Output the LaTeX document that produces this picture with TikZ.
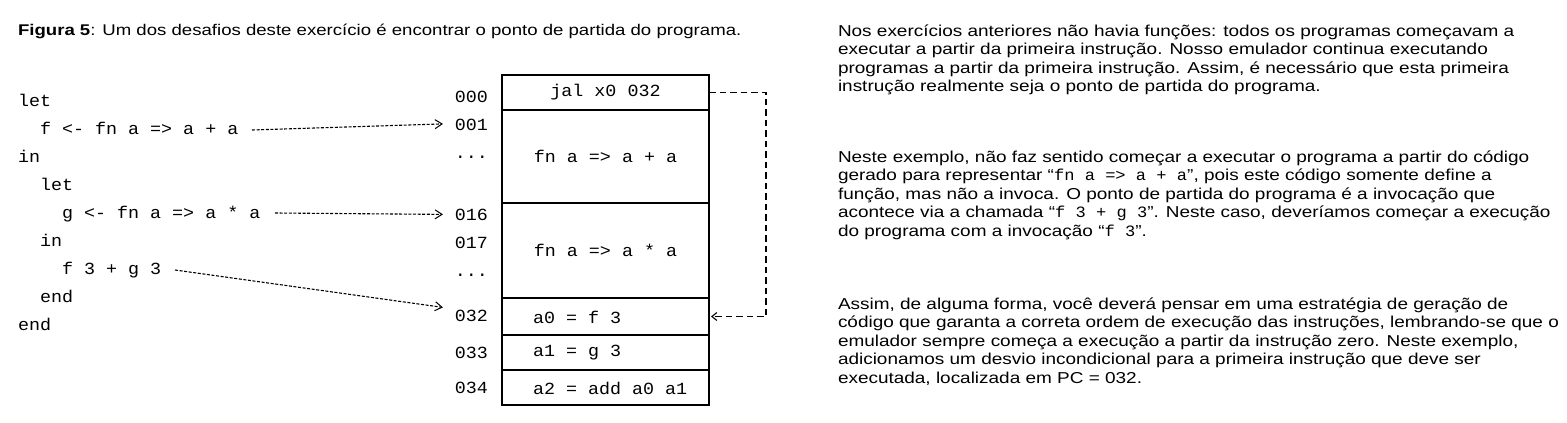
\documentclass[tikz,border=0pt]{standalone}
\usepackage{fontspec}
\setmainfont{Liberation Sans}[FakeStretch=1.2]
\newfontfamily\cmono{Liberation Mono}[FakeStretch=1.08]
\usetikzlibrary{arrows.meta}
\begin{document}
\begin{tikzpicture}[x=1pt,y=-1pt,
  every node/.style={inner sep=0pt,outer sep=0pt},
  txt/.style={anchor=base west,font=\fontsize{15.5}{18.6}\selectfont},
  para/.style={anchor=base west,font=\fontsize{15.8}{18.6}\selectfont},
  code/.style={anchor=base west,font=\fontsize{17}{18}\cmono},
  addr/.style={anchor=base east,font=\fontsize{17}{18}\cmono},
  cell/.style={draw,line width=1.2pt,minimum width=207pt,font=\fontsize{17}{18}\cmono},
  ptr/.style={dash pattern=on 3pt off 1.6pt,line width=1.1pt,-{Straight Barb[length=7pt,width=9pt,line width=1pt]}},
  jump/.style={dash pattern=on 6.5pt off 4pt,line width=1.2pt,-{Straight Barb[length=5pt,width=8pt,line width=1.1pt]}}]
\useasboundingbox (0,0) rectangle (1567,423);
% title
\node[txt] (title) at (18,35.7) {\textbf{Figura 5}: Um dos desafios deste exercício é encontrar o ponto de partida do programa.};
% code
\node[code] (c1) at (18,106) {let};
\node[code] (c2) at (18,134) {\ \ f <- fn a => a + a};
\node[code] (c3) at (18,162) {in};
\node[code] (c4) at (18,190) {\ \ let};
\node[code] (c5) at (18,218) {\ \ \ \ g <- fn a => a * a};
\node[code] (c6) at (18,246) {\ \ in};
\node[code] (c7) at (18,274) {\ \ \ \ f 3 + g 3};
\node[code] (c8) at (18,302) {\ \ end};
\node[code] (c9) at (18,330) {end};
% addresses
\node[addr] (a000) at (488,102) {000};
\node[addr] (a001) at (488,130) {001};
\node[addr] (ad1) at (488,158) {...};
\node[addr] (a016) at (488,220) {016};
\node[addr] (a017) at (488,248) {017};
\node[addr] (ad2) at (488,276) {...};
\node[addr] (a032) at (488,321) {032};
\node[addr] (a033) at (488,358) {033};
\node[addr] (a034) at (488,393) {034};
% memory cells
\node[cell,minimum height=35pt] (m0) at (605.5,92.5) {jal x0 032};
\node[cell,minimum height=93pt] (m1) at (605.5,156.5) {fn a => a + a};
\node[cell,minimum height=95pt] (m2) at (605.5,250.5) {fn a => a * a};
\node[cell,minimum height=37pt] (m3) at (605.5,316.5) {};
\node[cell,minimum height=35pt] (m4) at (605.5,352.5) {};
\node[cell,minimum height=35pt] (m5) at (605.5,387.5) {};
\node[code,anchor=west] (t3) at (533,317) {a0 = f 3};
\node[code,anchor=west] (t4) at (533,353) {a1 = g 3};
\node[code,anchor=west] (t5) at (533,388.5) {a2 = add a0 a1};
% pointers
\coordinate (s1) at (252,130);
\coordinate (s2) at (275,213);
\coordinate (s3) at (175,270);
\draw[ptr] (s1) -- ([xshift=-12pt,yshift=0.5pt]a001.west);
\draw[ptr] (s2) -- ([xshift=-12pt]a016.west);
\draw[ptr] (s3) -- ([xshift=-12pt,yshift=8pt]a032.west);
\coordinate (j1) at (766,92.5);
\coordinate (j2) at (766,316.5);
\draw[jump] (m0.east) -- (j1) -- (j2) -- ([xshift=2pt]m3.east);
% paragraphs
\node[para] (p11) at (838,36) {Nos exercícios anteriores não havia funções: todos os programas começavam a};
\node[para] (p12) at (838,54.6) {executar a partir da primeira instrução. Nosso emulador continua executando};
\node[para] (p13) at (838,73.2) {programas a partir da primeira instrução. Assim, é necessário que esta primeira};
\node[para] (p14) at (838,91.8) {instrução realmente seja o ponto de partida do programa.};
\node[para] (p21) at (838,162) {Neste exemplo, não faz sentido começar a executar o programa a partir do código};
\node[para] (p22) at (838,180.6) {gerado para representar “{\cmono fn a => a + a}”, pois este código somente define a};
\node[para] (p23) at (838,199.2) {função, mas não a invoca. O ponto de partida do programa é a invocação que};
\node[para] (p24) at (838,217.8) {acontece via a chamada “{\cmono f 3 + g 3}”. Neste caso, deveríamos começar a execução};
\node[para] (p25) at (838,236.4) {do programa com a invocação “{\cmono f 3}”.};
\node[para] (p31) at (838,309) {Assim, de alguma forma, você deverá pensar em uma estratégia de geração de};
\node[para] (p32) at (838,327.6) {código que garanta a correta ordem de execução das instruções, lembrando-se que o};
\node[para] (p33) at (838,346.2) {emulador sempre começa a execução a partir da instrução zero. Neste exemplo,};
\node[para] (p34) at (838,364.8) {adicionamos um desvio incondicional para a primeira instrução que deve ser};
\node[para] (p35) at (838,383.4) {executada, localizada em PC = 032.};
\end{tikzpicture}
\end{document}
